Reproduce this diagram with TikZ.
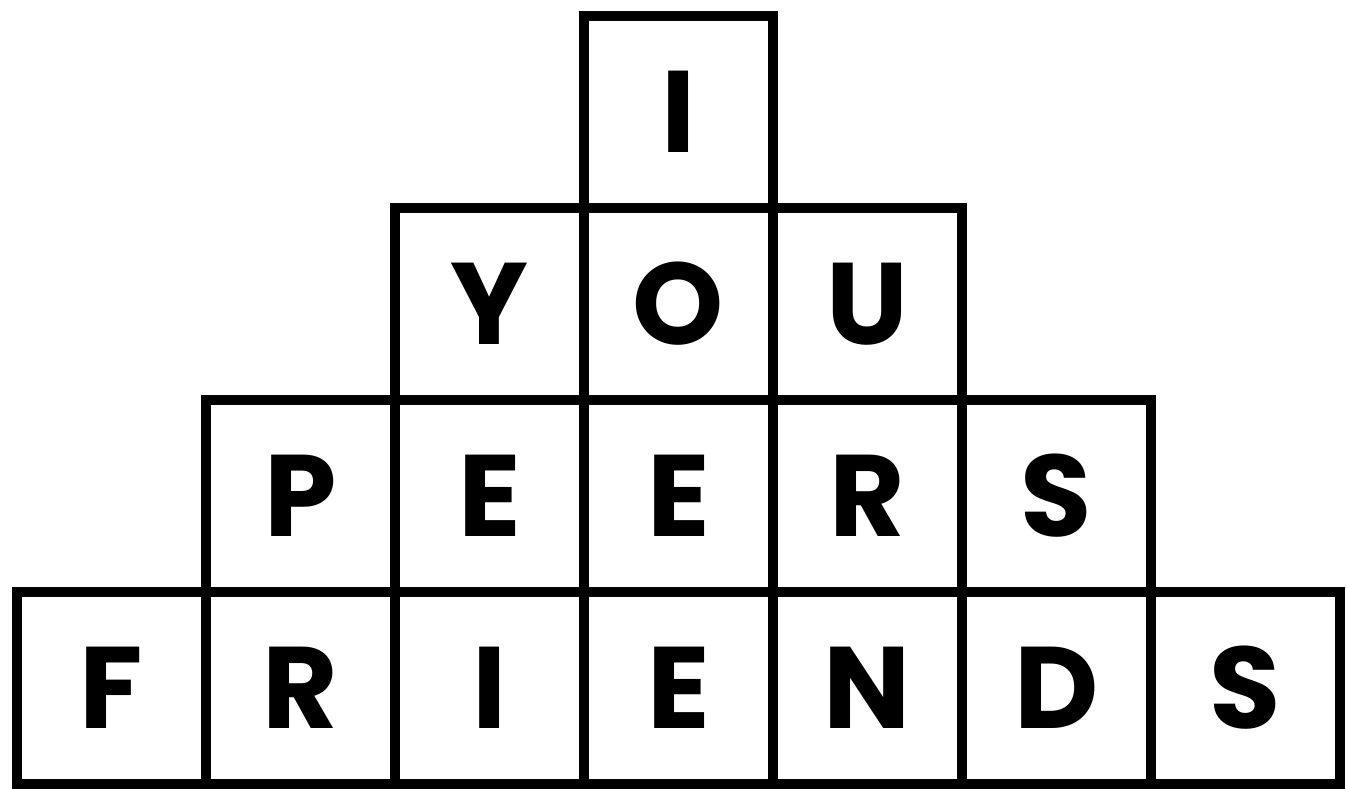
\documentclass[tikz,border=0pt]{standalone}
\usepackage{fontspec}
\setmainfont{Poppins}
\begin{document}
\begin{tikzpicture}[
    cell/.style={draw, line width=1mm, minimum width=1.89cm, minimum height=1.92cm, inner sep=0pt, outer sep=0pt, font=\fontsize{33}{33}\selectfont\bfseries},
]
\useasboundingbox (0,0) rectangle (13.46,7.88);

% top
\node[cell] (top) at (6.785, 6.76) {I};

% you
\node[cell] (you1) at (4.895, 4.84) {Y};
\node[cell] (you2) at (6.785, 4.84) {O};
\node[cell] (you3) at (8.675, 4.84) {U};

% peers
\node[cell] (peer1) at (3.005, 2.92) {P};
\node[cell] (peer2) at (4.895, 2.92) {E};
\node[cell] (peer3) at (6.785, 2.92) {E};
\node[cell] (peer4) at (8.675, 2.92) {R};
\node[cell] (peer5) at (10.565, 2.92) {S};

% friends
\node[cell] (friend1) at (1.115, 1.00) {F};
\node[cell] (friend2) at (3.005, 1.00) {R};
\node[cell] (friend3) at (4.895, 1.00) {I};
\node[cell] (friend4) at (6.785, 1.00) {E};
\node[cell] (friend5) at (8.675, 1.00) {N};
\node[cell] (friend6) at (10.565, 1.00) {D};
\node[cell] (friend7) at (12.455, 1.00) {S};

\end{tikzpicture}
\end{document}
